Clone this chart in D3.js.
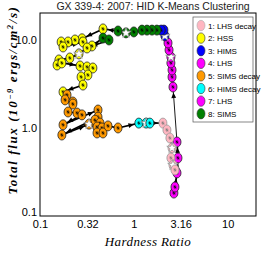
<!DOCTYPE html>
<html><head><meta charset="utf-8">
<script src="https://cdn.jsdelivr.net/npm/d3@7"></script>
<style>body{margin:0;background:#fff}</style></head>
<body><svg id="c" width="269" height="255"></svg>
<script>
// time-ordered track through the HID
const hardness = [2.67,2.74,2.88,2.95,2.88,
  2.61,2.55,2.55,2.48,2.48,2.37,2.31,
  2.14,2.09,1.95,
  1.76,1.56,1.38,1.22,1.00,0.824,0.678,
  0.469,0.280,0.236,0.199,0.168,0.176,0.287,0.358,
  0.469,0.543,
  0.317,0.260,0.208,0.159,0.152,0.171,0.267,0.317,0.366,0.324,0.274,0.287,0.176,
  0.194,0.185,0.224,0.224,0.199,0.248,0.280,0.176,0.415,0.415,0.171,0.333,0.385,0.436,0.405,0.457,0.405,0.469,0.530,0.678,
  1.13,1.35,1.48,
  2.04,2.25,2.42,2.55,2.48,2.61,2.74];
const flux = [0.182,0.213,0.308,0.455,0.690,
  2.90,3.77,4.52,5.43,6.35,7.62,9.15,
  11.0,12.8,12.8,
  12.8,12.8,12.8,12.8,12.2,11.9,12.5,
  13.2,10.2,9.89,9.39,9.39,8.24,9.39,8.46,
  10.4,9.89,
  8.03,6.87,6.18,5.87,5.15,5.43,5.02,4.89,4.76,3.97,3.77,3.05,2.55,
  2.36,2.07,1.96,1.86,1.51,1.47,1.40,1.08,1.59,1.32,0.828,1.10,1.22,1.13,1.02,0.995,0.873,0.873,1.05,0.995,
  1.13,1.13,1.13,
  1.13,0.944,0.766,0.590,0.455,0.378,0.333];
const cluster = [7,7,7,7,7,
  4,4,4,4,4,4,4,
  3,3,3,
  8,8,8,8,8,8,8,
  2,2,2,2,2,2,2,2,
  8,8,
  2,2,2,2,2,2,2,2,2,2,2,2,2,
  5,5,5,5,5,5,5,5,5,5,5,5,5,5,5,5,5,5,5,5,
  6,6,6,
  1,1,1,1,1,1,1];
const starred = [0,0,0,0,0,
  0,0,0,0,1,0,0,
  1,0,0,
  0,0,0,0,0,1,0,
  0,0,0,0,0,0,0,0,
  0,0,
  0,1,0,0,0,0,0,0,0,0,0,0,0,
  0,0,0,0,0,0,0,0,0,0,0,1,0,0,0,0,0,0,0,0,
  0,1,0,
  0,0,0,1,0,1,0];
const legendLabels = ["1: LHS decay","2: HSS","3: HIMS","4: LHS","5: SIMS decay","6: HIMS decay","7: LHS","8: SIMS"];
const clusterColors = ["#ffb6c1","#ffff00","#0000ff","#ff00ff","#ff9900","#00ffff","#ff00ff","#008000"];
const xTicks = [0.1,0.32,1,3.16,10];
const xTickLabels = ["0.1","0.32","1","3.16","10"];
const yTicks = [0.1,1,10];
const yTickLabels = ["0.1","1.0","10.0"];

const svg = d3.select("#c");
const L=40,R=256,T=13,B=216;
const x = d3.scaleLog().domain([0.1,20]).range([L,R]);
const y = d3.scaleLog().domain([0.1,20]).range([B,T]);
const narrow = "'Liberation Sans Narrow','Arial Narrow','Liberation Sans',sans-serif";

// title
svg.append("text").attr("x",153).attr("y",10).attr("text-anchor","middle").attr("fill","#222")
  .style("font-family",narrow).style("font-size","10.5px").text("GX 339-4: 2007: HID K-Means Clustering");

// axes (labels only)
const xa = svg.append("g").attr("transform",`translate(0,${B})`)
  .call(d3.axisBottom(x).tickValues(xTicks).tickFormat((d,i)=>xTickLabels[i]).tickSize(0).tickPadding(4));
xa.select(".domain").remove();
xa.selectAll("text").style("font-family",narrow).style("font-size","11px").attr("fill","#000");
const ya = svg.append("g").attr("transform",`translate(${L},0)`)
  .call(d3.axisLeft(y).tickValues(yTicks).tickFormat((d,i)=>yTickLabels[i]).tickSize(0).tickPadding(3));
ya.select(".domain").remove();
ya.selectAll("text").style("font-family",narrow).style("font-size","11px").attr("fill","#000");
ya.selectAll(".tick").filter(d=>d===0.1).select("text").attr("dy","-0.05em");

// axis titles
svg.append("text").attr("x",148).attr("y",246).attr("text-anchor","middle")
  .style("font-family","'Liberation Serif','Times New Roman',serif").style("font-style","italic")
  .style("font-size","13px").style("letter-spacing","0.4px").text("Hardness Ratio");
const yl = svg.append("text").attr("transform","translate(16.5,100) rotate(-90)").attr("text-anchor","middle")
  .style("font-family","'Liberation Serif','Times New Roman',serif").style("font-style","italic").style("font-weight","bold")
  .style("font-size","13px").style("letter-spacing","1.6px");
yl.append("tspan").text("Total flux (10");
yl.append("tspan").attr("dy","-4").style("font-size","8.5px").text("\u22129");
yl.append("tspan").attr("dy","4").text(" ergs/cm");
yl.append("tspan").attr("dy","-4").style("font-size","8.5px").text("2");
yl.append("tspan").attr("dy","4").text("/s)");

// frame
svg.append("rect").attr("x",L).attr("y",T).attr("width",R-L).attr("height",B-T)
  .attr("fill","none").attr("stroke","#000").attr("stroke-width",1);

// track lines + arrowheads
const pts = hardness.map((h,i)=>({px:x(h),py:y(flux[i]),c:cluster[i],s:starred[i]}));
const lineG = svg.append("g");
for(let i=0;i<pts.length-1;i++){
  const a=pts[i],b=pts[i+1];
  const thin = (a.c===7 && b.c===4);
  lineG.append("line").attr("x1",a.px).attr("y1",a.py).attr("x2",b.px).attr("y2",b.py)
    .attr("stroke","#000").attr("stroke-width",thin?0.9:1.7);
  const dx=b.px-a.px, dy=b.py-a.py, len=Math.hypot(dx,dy);
  if(len>11){
    const ux=dx/len, uy=dy/len, tipx=b.px-ux*5, tipy=b.py-uy*5.5;
    const bx=tipx-ux*5.5, by=tipy-uy*5.5, nx=-uy*2.4, ny=ux*2.4;
    lineG.append("path").attr("d",`M${tipx},${tipy}L${bx+nx},${by+ny}L${bx-nx},${by-ny}Z`).attr("fill","#000");
  }
}

// markers
const mg = svg.append("g");
pts.forEach(p=>{
  const col = clusterColors[p.c-1];
  mg.append("ellipse").attr("cx",p.px).attr("cy",p.py).attr("rx",4).attr("ry",5)
    .attr("fill",col).attr("stroke",p.c===1?"#999":"#222").attr("stroke-width",0.8);
  if(p.s){
    mg.append("path").attr("transform",`translate(${p.px},${p.py})`)
      .attr("d",d3.symbol(d3.symbolStar,34)()).attr("fill","#fff").attr("stroke","#888").attr("stroke-width",0.7);
  } else {
    const k=1.6;
    mg.append("path").attr("d",`M${p.px-k},${p.py}L${p.px+k},${p.py}M${p.px},${p.py-k*1.2}L${p.px},${p.py+k*1.2}M${p.px-k*0.8},${p.py-k*0.8}L${p.px+k*0.8},${p.py+k*0.8}`)
      .attr("stroke",p.c===1?"#777":"#000").attr("stroke-width",0.7);
  }
});

// legend
const lg = svg.append("g");
lg.append("rect").attr("x",193).attr("y",17).attr("width",60).attr("height",105)
  .attr("fill","#fff").attr("stroke","#555").attr("stroke-width",0.7);
legendLabels.forEach((t,i)=>{
  const yy = 25.5+i*12.6;
  lg.append("ellipse").attr("cx",201).attr("cy",yy).attr("rx",4).attr("ry",5.2)
    .attr("fill",clusterColors[i]).attr("stroke",i===0?"#aaa":"#333").attr("stroke-width",0.6);
  lg.append("text").attr("x",208).attr("y",yy+3).style("font-family",narrow).style("font-size","8px").text(t);
});
</script></body></html>
